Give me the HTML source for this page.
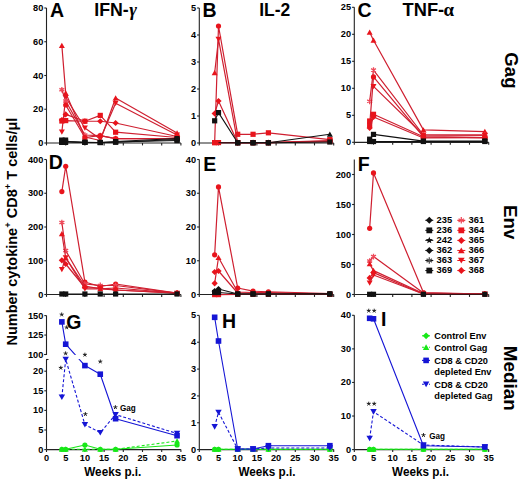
<!DOCTYPE html>
<html><head><meta charset="utf-8"><style>
html,body{margin:0;padding:0;background:#fff;}
svg{display:block;font-family:"Liberation Sans", sans-serif;}
</style></head><body>
<svg width="520" height="480" viewBox="0 0 520 480">
<rect width="520" height="480" fill="#fff"/>
<path d="M46.50,8.00V143.00" stroke="#222" stroke-width="1.1" fill="none"/><path d="M44.30,8.00H46.50" stroke="#222" stroke-width="1.1"/><text x="43.30" y="11.00" font-size="9.2" font-weight="bold" text-anchor="end" fill="#000">80</text><path d="M44.30,41.75H46.50" stroke="#222" stroke-width="1.1"/><text x="43.30" y="44.75" font-size="9.2" font-weight="bold" text-anchor="end" fill="#000">60</text><path d="M44.30,75.50H46.50" stroke="#222" stroke-width="1.1"/><text x="43.30" y="78.50" font-size="9.2" font-weight="bold" text-anchor="end" fill="#000">40</text><path d="M44.30,109.25H46.50" stroke="#222" stroke-width="1.1"/><text x="43.30" y="112.25" font-size="9.2" font-weight="bold" text-anchor="end" fill="#000">20</text><path d="M44.30,143.00H46.50" stroke="#222" stroke-width="1.1"/><text x="43.30" y="146.00" font-size="9.2" font-weight="bold" text-anchor="end" fill="#000">0</text><path d="M46.50,143.00H180.90" stroke="#222" stroke-width="1.2" fill="none"/><path d="M46.50,143.00V145.40" stroke="#222" stroke-width="1.1"/><path d="M65.70,143.00V145.40" stroke="#222" stroke-width="1.1"/><path d="M84.90,143.00V145.40" stroke="#222" stroke-width="1.1"/><path d="M104.10,143.00V145.40" stroke="#222" stroke-width="1.1"/><path d="M123.30,143.00V145.40" stroke="#222" stroke-width="1.1"/><path d="M142.50,143.00V145.40" stroke="#222" stroke-width="1.1"/><path d="M161.70,143.00V145.40" stroke="#222" stroke-width="1.1"/><path d="M180.90,143.00V145.40" stroke="#222" stroke-width="1.1"/><path d="M61.86,45.60L65.70,93.10L84.90,137.00L100.26,140.50L115.62,98.00L177.06,133.00" stroke="#cf1f30" stroke-width="1.2" fill="none" stroke-linejoin="round"/><path d="M61.86,42.87L64.85,48.07L58.87,48.07Z" fill="#e8141c"/><path d="M65.70,90.37L68.69,95.57L62.71,95.57Z" fill="#e8141c"/><path d="M84.90,134.27L87.89,139.47L81.91,139.47Z" fill="#e8141c"/><path d="M100.26,137.77L103.25,142.97L97.27,142.97Z" fill="#e8141c"/><path d="M115.62,95.27L118.61,100.47L112.63,100.47Z" fill="#e8141c"/><path d="M177.06,130.27L180.05,135.47L174.07,135.47Z" fill="#e8141c"/><path d="M61.86,131.90L65.70,97.50L84.90,128.00L100.26,139.00L115.62,103.20L177.06,135.00" stroke="#cf1f30" stroke-width="1.2" fill="none" stroke-linejoin="round"/><path d="M61.86,134.63L64.85,129.43L58.87,129.43Z" fill="#e8141c"/><path d="M65.70,100.23L68.69,95.03L62.71,95.03Z" fill="#e8141c"/><path d="M84.90,130.73L87.89,125.53L81.91,125.53Z" fill="#e8141c"/><path d="M100.26,141.73L103.25,136.53L97.27,136.53Z" fill="#e8141c"/><path d="M115.62,105.93L118.61,100.73L112.63,100.73Z" fill="#e8141c"/><path d="M177.06,137.73L180.05,132.53L174.07,132.53Z" fill="#e8141c"/><path d="M61.86,89.75L65.70,101.00L84.90,135.00L100.26,135.60L115.62,138.60L177.06,138.50" stroke="#cf1f30" stroke-width="1.2" fill="none" stroke-linejoin="round"/><path d="M61.86,86.89L61.86,92.61M59.38,88.32L64.34,91.18M59.38,91.18L64.34,88.32" stroke="#ee4a5a" stroke-width="1.3" fill="none"/><path d="M65.70,98.14L65.70,103.86M63.22,99.57L68.18,102.43M63.22,102.43L68.18,99.57" stroke="#ee4a5a" stroke-width="1.3" fill="none"/><path d="M84.90,132.14L84.90,137.86M82.42,133.57L87.38,136.43M82.42,136.43L87.38,133.57" stroke="#ee4a5a" stroke-width="1.3" fill="none"/><path d="M100.26,132.74L100.26,138.46M97.78,134.17L102.74,137.03M97.78,137.03L102.74,134.17" stroke="#ee4a5a" stroke-width="1.3" fill="none"/><path d="M115.62,135.74L115.62,141.46M113.14,137.17L118.10,140.03M113.14,140.03L118.10,137.17" stroke="#ee4a5a" stroke-width="1.3" fill="none"/><path d="M177.06,135.64L177.06,141.36M174.58,137.07L179.54,139.93M174.58,139.93L179.54,137.07" stroke="#ee4a5a" stroke-width="1.3" fill="none"/><path d="M61.86,120.00L65.70,114.40L84.90,121.25L100.26,121.25L115.62,123.00L177.06,136.50" stroke="#cf1f30" stroke-width="1.2" fill="none" stroke-linejoin="round"/><path d="M61.86,116.88L64.98,120.00L61.86,123.12L58.74,120.00Z" fill="#e8141c"/><path d="M65.70,111.28L68.82,114.40L65.70,117.52L62.58,114.40Z" fill="#e8141c"/><path d="M84.90,118.13L88.02,121.25L84.90,124.37L81.78,121.25Z" fill="#e8141c"/><path d="M100.26,118.13L103.38,121.25L100.26,124.37L97.14,121.25Z" fill="#e8141c"/><path d="M115.62,119.88L118.74,123.00L115.62,126.12L112.50,123.00Z" fill="#e8141c"/><path d="M177.06,133.38L180.18,136.50L177.06,139.62L173.94,136.50Z" fill="#e8141c"/><path d="M61.86,121.00L65.70,120.60L84.90,121.25L100.26,115.40L115.62,132.20L177.06,137.50" stroke="#cf1f30" stroke-width="1.2" fill="none" stroke-linejoin="round"/><rect x="59.26" y="118.40" width="5.20" height="5.20" fill="#e8141c"/><rect x="63.10" y="118.00" width="5.20" height="5.20" fill="#e8141c"/><rect x="82.30" y="118.65" width="5.20" height="5.20" fill="#e8141c"/><rect x="97.66" y="112.80" width="5.20" height="5.20" fill="#e8141c"/><rect x="113.02" y="129.60" width="5.20" height="5.20" fill="#e8141c"/><rect x="174.46" y="134.90" width="5.20" height="5.20" fill="#e8141c"/><path d="M65.70,105.00L84.90,137.50L100.26,135.60L115.62,138.60L177.06,139.00" stroke="#cf1f30" stroke-width="1.2" fill="none" stroke-linejoin="round"/><circle cx="65.70" cy="105.00" r="2.60" fill="#e8141c"/><circle cx="84.90" cy="137.50" r="2.60" fill="#e8141c"/><circle cx="100.26" cy="135.60" r="2.60" fill="#e8141c"/><circle cx="115.62" cy="138.60" r="2.60" fill="#e8141c"/><circle cx="177.06" cy="139.00" r="2.60" fill="#e8141c"/><path d="M61.86,141.50L84.90,142.20L100.26,142.50L115.62,142.00L177.06,140.50" stroke="#111" stroke-width="1.1" fill="none" stroke-linejoin="round"/><rect x="59.16" y="138.80" width="5.40" height="5.40" fill="#111"/><rect x="82.20" y="139.50" width="5.40" height="5.40" fill="#111"/><rect x="97.56" y="139.80" width="5.40" height="5.40" fill="#111"/><rect x="112.92" y="139.30" width="5.40" height="5.40" fill="#111"/><rect x="174.36" y="137.80" width="5.40" height="5.40" fill="#111"/><path d="M61.86,141.50L84.90,142.50L100.26,142.50L115.62,141.50L177.06,138.50" stroke="#111" stroke-width="1.1" fill="none" stroke-linejoin="round"/><rect x="59.36" y="139.00" width="5.00" height="5.00" fill="#111"/><rect x="82.40" y="140.00" width="5.00" height="5.00" fill="#111"/><rect x="97.76" y="140.00" width="5.00" height="5.00" fill="#111"/><rect x="113.12" y="139.00" width="5.00" height="5.00" fill="#111"/><rect x="174.56" y="136.00" width="5.00" height="5.00" fill="#111"/><path d="M61.86,141.50L84.90,142.50L100.26,142.50L115.62,142.20L177.06,139.50" stroke="#111" stroke-width="1.1" fill="none" stroke-linejoin="round"/><rect x="59.36" y="139.00" width="5.00" height="5.00" fill="#111"/><rect x="82.40" y="140.00" width="5.00" height="5.00" fill="#111"/><rect x="97.76" y="140.00" width="5.00" height="5.00" fill="#111"/><rect x="113.12" y="139.70" width="5.00" height="5.00" fill="#111"/><rect x="174.56" y="137.00" width="5.00" height="5.00" fill="#111"/><rect x="59.06" y="137.50" width="5.60" height="5.60" fill="#111"/><rect x="62.60" y="137.50" width="5.60" height="5.60" fill="#111"/><rect x="59.06" y="139.40" width="5.60" height="5.60" fill="#111"/><rect x="62.60" y="139.40" width="5.60" height="5.60" fill="#111"/><path d="M199.30,8.00V143.00" stroke="#222" stroke-width="1.1" fill="none"/><path d="M197.10,8.00H199.30" stroke="#222" stroke-width="1.1"/><text x="196.10" y="11.00" font-size="9.2" font-weight="bold" text-anchor="end" fill="#000">5</text><path d="M197.10,35.00H199.30" stroke="#222" stroke-width="1.1"/><text x="196.10" y="38.00" font-size="9.2" font-weight="bold" text-anchor="end" fill="#000">4</text><path d="M197.10,62.00H199.30" stroke="#222" stroke-width="1.1"/><text x="196.10" y="65.00" font-size="9.2" font-weight="bold" text-anchor="end" fill="#000">3</text><path d="M197.10,89.00H199.30" stroke="#222" stroke-width="1.1"/><text x="196.10" y="92.00" font-size="9.2" font-weight="bold" text-anchor="end" fill="#000">2</text><path d="M197.10,116.00H199.30" stroke="#222" stroke-width="1.1"/><text x="196.10" y="119.00" font-size="9.2" font-weight="bold" text-anchor="end" fill="#000">1</text><path d="M197.10,143.00H199.30" stroke="#222" stroke-width="1.1"/><text x="196.10" y="146.00" font-size="9.2" font-weight="bold" text-anchor="end" fill="#000">0</text><path d="M199.30,143.00H333.70" stroke="#222" stroke-width="1.2" fill="none"/><path d="M199.30,143.00V145.40" stroke="#222" stroke-width="1.1"/><path d="M218.50,143.00V145.40" stroke="#222" stroke-width="1.1"/><path d="M237.70,143.00V145.40" stroke="#222" stroke-width="1.1"/><path d="M256.90,143.00V145.40" stroke="#222" stroke-width="1.1"/><path d="M276.10,143.00V145.40" stroke="#222" stroke-width="1.1"/><path d="M295.30,143.00V145.40" stroke="#222" stroke-width="1.1"/><path d="M314.50,143.00V145.40" stroke="#222" stroke-width="1.1"/><path d="M333.70,143.00V145.40" stroke="#222" stroke-width="1.1"/><path d="M214.66,142.60L218.50,26.00L237.70,134.30L253.06,134.30L268.42,132.80L329.86,139.60" stroke="#cf1f30" stroke-width="1.2" fill="none" stroke-linejoin="round"/><rect x="212.06" y="140.00" width="5.20" height="5.20" fill="#e8141c"/><circle cx="218.50" cy="26.00" r="2.60" fill="#e8141c"/><rect x="235.10" y="131.70" width="5.20" height="5.20" fill="#e8141c"/><rect x="250.46" y="131.70" width="5.20" height="5.20" fill="#e8141c"/><rect x="265.82" y="130.20" width="5.20" height="5.20" fill="#e8141c"/><rect x="327.26" y="137.00" width="5.20" height="5.20" fill="#e8141c"/><path d="M214.66,72.70L218.50,39.20L237.70,142.60L253.06,142.60L268.42,142.60L329.86,140.50" stroke="#cf1f30" stroke-width="1.2" fill="none" stroke-linejoin="round"/><path d="M214.66,69.97L217.65,75.17L211.67,75.17Z" fill="#e8141c"/><path d="M218.50,41.93L221.49,36.73L215.51,36.73Z" fill="#e8141c"/><rect x="235.10" y="140.00" width="5.20" height="5.20" fill="#e8141c"/><rect x="250.46" y="140.00" width="5.20" height="5.20" fill="#e8141c"/><rect x="265.82" y="140.00" width="5.20" height="5.20" fill="#e8141c"/><rect x="327.26" y="137.90" width="5.20" height="5.20" fill="#e8141c"/><path d="M214.66,113.50L218.50,101.00L237.70,142.60L253.06,142.60L268.42,142.60L329.86,141.00" stroke="#cf1f30" stroke-width="1.2" fill="none" stroke-linejoin="round"/><path d="M214.66,110.38L217.78,113.50L214.66,116.62L211.54,113.50Z" fill="#e8141c"/><path d="M218.50,97.88L221.62,101.00L218.50,104.12L215.38,101.00Z" fill="#e8141c"/><path d="M237.70,139.48L240.82,142.60L237.70,145.72L234.58,142.60Z" fill="#e8141c"/><path d="M253.06,139.48L256.18,142.60L253.06,145.72L249.94,142.60Z" fill="#e8141c"/><path d="M268.42,139.48L271.54,142.60L268.42,145.72L265.30,142.60Z" fill="#e8141c"/><path d="M329.86,137.88L332.98,141.00L329.86,144.12L326.74,141.00Z" fill="#e8141c"/><path d="M214.66,142.60L218.50,142.60L237.70,142.60L253.06,142.60L268.42,142.60L329.86,141.50" stroke="#cf1f30" stroke-width="1.2" fill="none" stroke-linejoin="round"/><rect x="212.06" y="140.00" width="5.20" height="5.20" fill="#e8141c"/><rect x="215.90" y="140.00" width="5.20" height="5.20" fill="#e8141c"/><rect x="235.10" y="140.00" width="5.20" height="5.20" fill="#e8141c"/><rect x="250.46" y="140.00" width="5.20" height="5.20" fill="#e8141c"/><rect x="265.82" y="140.00" width="5.20" height="5.20" fill="#e8141c"/><rect x="327.26" y="138.90" width="5.20" height="5.20" fill="#e8141c"/><path d="M214.66,120.80L218.50,112.60L237.70,142.80L253.06,142.80L268.42,142.80L329.86,134.30" stroke="#111" stroke-width="1.1" fill="none" stroke-linejoin="round"/><rect x="212.06" y="118.20" width="5.20" height="5.20" fill="#111"/><rect x="215.90" y="110.00" width="5.20" height="5.20" fill="#111"/><rect x="235.10" y="140.20" width="5.20" height="5.20" fill="#111"/><rect x="250.46" y="140.20" width="5.20" height="5.20" fill="#111"/><rect x="265.82" y="140.20" width="5.20" height="5.20" fill="#111"/><path d="M329.86,131.57L332.85,136.77L326.87,136.77Z" fill="#111"/><path d="M218.50,142.80L237.70,142.80L253.06,142.80L268.42,142.80L329.86,142.00" stroke="#111" stroke-width="1.1" fill="none" stroke-linejoin="round"/><rect x="235.10" y="140.20" width="5.20" height="5.20" fill="#111"/><rect x="250.46" y="140.20" width="5.20" height="5.20" fill="#111"/><rect x="265.82" y="140.20" width="5.20" height="5.20" fill="#111"/><rect x="327.26" y="139.40" width="5.20" height="5.20" fill="#111"/><path d="M354.30,7.30V142.30" stroke="#222" stroke-width="1.1" fill="none"/><path d="M352.10,7.30H354.30" stroke="#222" stroke-width="1.1"/><text x="351.10" y="10.30" font-size="9.2" font-weight="bold" text-anchor="end" fill="#000">25</text><path d="M352.10,34.30H354.30" stroke="#222" stroke-width="1.1"/><text x="351.10" y="37.30" font-size="9.2" font-weight="bold" text-anchor="end" fill="#000">20</text><path d="M352.10,61.30H354.30" stroke="#222" stroke-width="1.1"/><text x="351.10" y="64.30" font-size="9.2" font-weight="bold" text-anchor="end" fill="#000">15</text><path d="M352.10,88.30H354.30" stroke="#222" stroke-width="1.1"/><text x="351.10" y="91.30" font-size="9.2" font-weight="bold" text-anchor="end" fill="#000">10</text><path d="M352.10,115.30H354.30" stroke="#222" stroke-width="1.1"/><text x="351.10" y="118.30" font-size="9.2" font-weight="bold" text-anchor="end" fill="#000">5</text><path d="M352.10,142.30H354.30" stroke="#222" stroke-width="1.1"/><text x="351.10" y="145.30" font-size="9.2" font-weight="bold" text-anchor="end" fill="#000">0</text><path d="M354.30,142.30H488.70" stroke="#222" stroke-width="1.2" fill="none"/><path d="M354.30,142.30V144.70" stroke="#222" stroke-width="1.1"/><path d="M373.50,142.30V144.70" stroke="#222" stroke-width="1.1"/><path d="M392.70,142.30V144.70" stroke="#222" stroke-width="1.1"/><path d="M411.90,142.30V144.70" stroke="#222" stroke-width="1.1"/><path d="M431.10,142.30V144.70" stroke="#222" stroke-width="1.1"/><path d="M450.30,142.30V144.70" stroke="#222" stroke-width="1.1"/><path d="M469.50,142.30V144.70" stroke="#222" stroke-width="1.1"/><path d="M488.70,142.30V144.70" stroke="#222" stroke-width="1.1"/><path d="M369.66,32.20L373.50,40.30L423.42,129.90L484.86,131.60" stroke="#cf1f30" stroke-width="1.2" fill="none" stroke-linejoin="round"/><path d="M369.66,29.47L372.65,34.67L366.67,34.67Z" fill="#e8141c"/><path d="M373.50,37.57L376.49,42.77L370.51,42.77Z" fill="#e8141c"/><path d="M423.42,127.17L426.41,132.37L420.43,132.37Z" fill="#e8141c"/><path d="M484.86,128.87L487.85,134.07L481.87,134.07Z" fill="#e8141c"/><path d="M369.66,101.30L373.50,70.10L423.42,135.00L484.86,135.10" stroke="#cf1f30" stroke-width="1.2" fill="none" stroke-linejoin="round"/><path d="M369.66,98.44L369.66,104.16M367.18,99.87L372.14,102.73M367.18,102.73L372.14,99.87" stroke="#ee4a5a" stroke-width="1.3" fill="none"/><path d="M373.50,67.24L373.50,72.96M371.02,68.67L375.98,71.53M371.02,71.53L375.98,68.67" stroke="#ee4a5a" stroke-width="1.3" fill="none"/><path d="M423.42,132.14L423.42,137.86M420.94,133.57L425.90,136.43M420.94,136.43L425.90,133.57" stroke="#ee4a5a" stroke-width="1.3" fill="none"/><path d="M484.86,132.24L484.86,137.96M482.38,133.67L487.34,136.53M482.38,136.53L487.34,133.67" stroke="#ee4a5a" stroke-width="1.3" fill="none"/><path d="M369.66,125.10L373.50,76.90L423.42,136.80L484.86,137.70" stroke="#cf1f30" stroke-width="1.2" fill="none" stroke-linejoin="round"/><rect x="367.06" y="122.50" width="5.20" height="5.20" fill="#e8141c"/><circle cx="373.50" cy="76.90" r="2.60" fill="#e8141c"/><circle cx="423.42" cy="136.80" r="2.60" fill="#e8141c"/><circle cx="484.86" cy="137.70" r="2.60" fill="#e8141c"/><path d="M373.50,86.40L423.42,135.00L484.86,135.10" stroke="#cf1f30" stroke-width="1.2" fill="none" stroke-linejoin="round"/><path d="M373.50,89.13L376.49,83.93L370.51,83.93Z" fill="#e8141c"/><path d="M423.42,137.73L426.41,132.53L420.43,132.53Z" fill="#e8141c"/><path d="M484.86,137.83L487.85,132.63L481.87,132.63Z" fill="#e8141c"/><path d="M369.66,121.00L373.50,114.30L423.42,136.80L484.86,137.70" stroke="#cf1f30" stroke-width="1.2" fill="none" stroke-linejoin="round"/><rect x="367.06" y="118.40" width="5.20" height="5.20" fill="#e8141c"/><rect x="370.90" y="111.70" width="5.20" height="5.20" fill="#e8141c"/><rect x="420.82" y="134.20" width="5.20" height="5.20" fill="#e8141c"/><rect x="482.26" y="135.10" width="5.20" height="5.20" fill="#e8141c"/><path d="M369.66,128.00L373.50,117.00L423.42,138.00L484.86,137.70" stroke="#cf1f30" stroke-width="1.2" fill="none" stroke-linejoin="round"/><path d="M369.66,124.88L372.78,128.00L369.66,131.12L366.54,128.00Z" fill="#e8141c"/><path d="M373.50,113.88L376.62,117.00L373.50,120.12L370.38,117.00Z" fill="#e8141c"/><path d="M423.42,134.88L426.54,138.00L423.42,141.12L420.30,138.00Z" fill="#e8141c"/><path d="M484.86,134.58L487.98,137.70L484.86,140.82L481.74,137.70Z" fill="#e8141c"/><path d="M369.66,139.20L373.50,134.40L423.42,141.10L484.86,141.00" stroke="#111" stroke-width="1.1" fill="none" stroke-linejoin="round"/><rect x="367.06" y="136.60" width="5.20" height="5.20" fill="#111"/><rect x="370.90" y="131.80" width="5.20" height="5.20" fill="#111"/><rect x="420.82" y="138.50" width="5.20" height="5.20" fill="#111"/><rect x="482.26" y="138.40" width="5.20" height="5.20" fill="#111"/><path d="M369.66,141.50L373.50,141.50L423.42,141.50L484.86,141.50" stroke="#111" stroke-width="1.1" fill="none" stroke-linejoin="round"/><rect x="367.06" y="138.90" width="5.20" height="5.20" fill="#111"/><rect x="370.90" y="138.90" width="5.20" height="5.20" fill="#111"/><rect x="420.82" y="138.90" width="5.20" height="5.20" fill="#111"/><rect x="482.26" y="138.90" width="5.20" height="5.20" fill="#111"/><path d="M46.50,159.50V294.50" stroke="#222" stroke-width="1.1" fill="none"/><path d="M44.30,159.50H46.50" stroke="#222" stroke-width="1.1"/><text x="43.30" y="162.50" font-size="9.2" font-weight="bold" text-anchor="end" fill="#000">400</text><path d="M44.30,193.25H46.50" stroke="#222" stroke-width="1.1"/><text x="43.30" y="196.25" font-size="9.2" font-weight="bold" text-anchor="end" fill="#000">300</text><path d="M44.30,227.00H46.50" stroke="#222" stroke-width="1.1"/><text x="43.30" y="230.00" font-size="9.2" font-weight="bold" text-anchor="end" fill="#000">200</text><path d="M44.30,260.75H46.50" stroke="#222" stroke-width="1.1"/><text x="43.30" y="263.75" font-size="9.2" font-weight="bold" text-anchor="end" fill="#000">100</text><path d="M44.30,294.50H46.50" stroke="#222" stroke-width="1.1"/><text x="43.30" y="297.50" font-size="9.2" font-weight="bold" text-anchor="end" fill="#000">0</text><path d="M46.50,294.50H180.90" stroke="#222" stroke-width="1.2" fill="none"/><path d="M46.50,294.50V296.90" stroke="#222" stroke-width="1.1"/><path d="M65.70,294.50V296.90" stroke="#222" stroke-width="1.1"/><path d="M84.90,294.50V296.90" stroke="#222" stroke-width="1.1"/><path d="M104.10,294.50V296.90" stroke="#222" stroke-width="1.1"/><path d="M123.30,294.50V296.90" stroke="#222" stroke-width="1.1"/><path d="M142.50,294.50V296.90" stroke="#222" stroke-width="1.1"/><path d="M161.70,294.50V296.90" stroke="#222" stroke-width="1.1"/><path d="M180.90,294.50V296.90" stroke="#222" stroke-width="1.1"/><path d="M61.86,191.60L65.70,166.25L84.90,282.00L100.26,286.50L115.62,284.00L177.06,293.20" stroke="#cf1f30" stroke-width="1.2" fill="none" stroke-linejoin="round"/><circle cx="61.86" cy="191.60" r="2.60" fill="#e8141c"/><circle cx="65.70" cy="166.25" r="2.60" fill="#e8141c"/><circle cx="84.90" cy="282.00" r="2.60" fill="#e8141c"/><circle cx="100.26" cy="286.50" r="2.60" fill="#e8141c"/><circle cx="115.62" cy="284.00" r="2.60" fill="#e8141c"/><circle cx="177.06" cy="293.20" r="2.60" fill="#e8141c"/><path d="M61.86,222.50L65.70,250.60L84.90,284.00L100.26,285.40L115.62,285.50L177.06,293.20" stroke="#cf1f30" stroke-width="1.2" fill="none" stroke-linejoin="round"/><path d="M61.86,219.64L61.86,225.36M59.38,221.07L64.34,223.93M59.38,223.93L64.34,221.07" stroke="#ee4a5a" stroke-width="1.3" fill="none"/><path d="M65.70,247.74L65.70,253.46M63.22,249.17L68.18,252.03M63.22,252.03L68.18,249.17" stroke="#ee4a5a" stroke-width="1.3" fill="none"/><path d="M84.90,281.14L84.90,286.86M82.42,282.57L87.38,285.43M82.42,285.43L87.38,282.57" stroke="#ee4a5a" stroke-width="1.3" fill="none"/><path d="M100.26,282.54L100.26,288.26M97.78,283.97L102.74,286.83M97.78,286.83L102.74,283.97" stroke="#ee4a5a" stroke-width="1.3" fill="none"/><path d="M115.62,282.64L115.62,288.36M113.14,284.07L118.10,286.93M113.14,286.93L118.10,284.07" stroke="#ee4a5a" stroke-width="1.3" fill="none"/><path d="M177.06,290.34L177.06,296.06M174.58,291.77L179.54,294.63M174.58,294.63L179.54,291.77" stroke="#ee4a5a" stroke-width="1.3" fill="none"/><path d="M61.86,233.75L65.70,257.80L84.90,286.00L100.26,288.80L115.62,288.00L177.06,293.20" stroke="#cf1f30" stroke-width="1.2" fill="none" stroke-linejoin="round"/><path d="M61.86,231.02L64.85,236.22L58.87,236.22Z" fill="#e8141c"/><path d="M65.70,255.07L68.69,260.27L62.71,260.27Z" fill="#e8141c"/><path d="M84.90,283.27L87.89,288.47L81.91,288.47Z" fill="#e8141c"/><path d="M100.26,286.07L103.25,291.27L97.27,291.27Z" fill="#e8141c"/><path d="M115.62,285.27L118.61,290.47L112.63,290.47Z" fill="#e8141c"/><path d="M177.06,290.47L180.05,295.67L174.07,295.67Z" fill="#e8141c"/><path d="M61.86,260.30L65.70,264.00L84.90,287.50L100.26,288.00L115.62,290.00L177.06,293.20" stroke="#cf1f30" stroke-width="1.2" fill="none" stroke-linejoin="round"/><path d="M61.86,257.18L64.98,260.30L61.86,263.42L58.74,260.30Z" fill="#e8141c"/><path d="M65.70,260.88L68.82,264.00L65.70,267.12L62.58,264.00Z" fill="#e8141c"/><path d="M84.90,284.38L88.02,287.50L84.90,290.62L81.78,287.50Z" fill="#e8141c"/><path d="M100.26,284.88L103.38,288.00L100.26,291.12L97.14,288.00Z" fill="#e8141c"/><path d="M115.62,286.88L118.74,290.00L115.62,293.12L112.50,290.00Z" fill="#e8141c"/><path d="M177.06,290.08L180.18,293.20L177.06,296.32L173.94,293.20Z" fill="#e8141c"/><path d="M61.86,269.40L65.70,257.80L84.90,288.80L100.26,288.80L115.62,290.00L177.06,293.20" stroke="#cf1f30" stroke-width="1.2" fill="none" stroke-linejoin="round"/><path d="M61.86,272.13L64.85,266.93L58.87,266.93Z" fill="#e8141c"/><path d="M65.70,260.53L68.69,255.33L62.71,255.33Z" fill="#e8141c"/><path d="M84.90,291.53L87.89,286.33L81.91,286.33Z" fill="#e8141c"/><path d="M100.26,291.53L103.25,286.33L97.27,286.33Z" fill="#e8141c"/><path d="M115.62,292.73L118.61,287.53L112.63,287.53Z" fill="#e8141c"/><path d="M177.06,295.93L180.05,290.73L174.07,290.73Z" fill="#e8141c"/><path d="M61.86,294.00L65.70,294.00L84.90,294.00L100.26,294.00L115.62,294.00L177.06,294.00" stroke="#111" stroke-width="1.1" fill="none" stroke-linejoin="round"/><rect x="59.26" y="291.40" width="5.20" height="5.20" fill="#111"/><rect x="63.10" y="291.40" width="5.20" height="5.20" fill="#111"/><rect x="82.30" y="291.40" width="5.20" height="5.20" fill="#111"/><rect x="97.66" y="291.40" width="5.20" height="5.20" fill="#111"/><rect x="113.02" y="291.40" width="5.20" height="5.20" fill="#111"/><rect x="174.46" y="291.40" width="5.20" height="5.20" fill="#111"/><path d="M199.30,159.50V294.50" stroke="#222" stroke-width="1.1" fill="none"/><path d="M197.10,159.50H199.30" stroke="#222" stroke-width="1.1"/><text x="196.10" y="162.50" font-size="9.2" font-weight="bold" text-anchor="end" fill="#000">40</text><path d="M197.10,193.25H199.30" stroke="#222" stroke-width="1.1"/><text x="196.10" y="196.25" font-size="9.2" font-weight="bold" text-anchor="end" fill="#000">30</text><path d="M197.10,227.00H199.30" stroke="#222" stroke-width="1.1"/><text x="196.10" y="230.00" font-size="9.2" font-weight="bold" text-anchor="end" fill="#000">20</text><path d="M197.10,260.75H199.30" stroke="#222" stroke-width="1.1"/><text x="196.10" y="263.75" font-size="9.2" font-weight="bold" text-anchor="end" fill="#000">10</text><path d="M197.10,294.50H199.30" stroke="#222" stroke-width="1.1"/><text x="196.10" y="297.50" font-size="9.2" font-weight="bold" text-anchor="end" fill="#000">0</text><path d="M199.30,294.50H333.70" stroke="#222" stroke-width="1.2" fill="none"/><path d="M199.30,294.50V296.90" stroke="#222" stroke-width="1.1"/><path d="M218.50,294.50V296.90" stroke="#222" stroke-width="1.1"/><path d="M237.70,294.50V296.90" stroke="#222" stroke-width="1.1"/><path d="M256.90,294.50V296.90" stroke="#222" stroke-width="1.1"/><path d="M276.10,294.50V296.90" stroke="#222" stroke-width="1.1"/><path d="M295.30,294.50V296.90" stroke="#222" stroke-width="1.1"/><path d="M314.50,294.50V296.90" stroke="#222" stroke-width="1.1"/><path d="M333.70,294.50V296.90" stroke="#222" stroke-width="1.1"/><path d="M214.66,294.60L218.50,294.60L237.70,294.30L253.06,294.30L268.42,294.30L329.86,294.30" stroke="#cf1f30" stroke-width="1.2" fill="none" stroke-linejoin="round"/><rect x="212.06" y="292.00" width="5.20" height="5.20" fill="#e8141c"/><rect x="215.90" y="292.00" width="5.20" height="5.20" fill="#e8141c"/><rect x="235.10" y="291.70" width="5.20" height="5.20" fill="#e8141c"/><rect x="250.46" y="291.70" width="5.20" height="5.20" fill="#e8141c"/><rect x="265.82" y="291.70" width="5.20" height="5.20" fill="#e8141c"/><rect x="327.26" y="291.70" width="5.20" height="5.20" fill="#e8141c"/><path d="M214.66,254.80L218.50,186.90L237.70,288.00L253.06,291.20L268.42,291.75L329.86,293.50" stroke="#cf1f30" stroke-width="1.2" fill="none" stroke-linejoin="round"/><circle cx="214.66" cy="254.80" r="2.60" fill="#e8141c"/><circle cx="218.50" cy="186.90" r="2.60" fill="#e8141c"/><circle cx="237.70" cy="288.00" r="2.60" fill="#e8141c"/><circle cx="253.06" cy="291.20" r="2.60" fill="#e8141c"/><circle cx="268.42" cy="291.75" r="2.60" fill="#e8141c"/><circle cx="329.86" cy="293.50" r="2.60" fill="#e8141c"/><path d="M214.66,283.30L218.50,257.50L237.70,292.00L253.06,292.50L268.42,292.50L329.86,294.00" stroke="#cf1f30" stroke-width="1.2" fill="none" stroke-linejoin="round"/><path d="M214.66,280.18L217.78,283.30L214.66,286.42L211.54,283.30Z" fill="#e8141c"/><path d="M218.50,254.77L221.49,259.97L215.51,259.97Z" fill="#e8141c"/><path d="M237.70,289.27L240.69,294.47L234.71,294.47Z" fill="#e8141c"/><path d="M253.06,289.77L256.05,294.97L250.07,294.97Z" fill="#e8141c"/><path d="M268.42,289.77L271.41,294.97L265.43,294.97Z" fill="#e8141c"/><path d="M329.86,291.27L332.85,296.47L326.87,296.47Z" fill="#e8141c"/><path d="M214.66,272.00L218.50,271.00L237.70,293.00L253.06,293.00L268.42,293.00L329.86,294.00" stroke="#cf1f30" stroke-width="1.2" fill="none" stroke-linejoin="round"/><path d="M214.66,268.88L217.78,272.00L214.66,275.12L211.54,272.00Z" fill="#e8141c"/><path d="M218.50,267.88L221.62,271.00L218.50,274.12L215.38,271.00Z" fill="#e8141c"/><path d="M237.70,289.88L240.82,293.00L237.70,296.12L234.58,293.00Z" fill="#e8141c"/><path d="M253.06,289.88L256.18,293.00L253.06,296.12L249.94,293.00Z" fill="#e8141c"/><path d="M268.42,289.88L271.54,293.00L268.42,296.12L265.30,293.00Z" fill="#e8141c"/><path d="M329.86,290.88L332.98,294.00L329.86,297.12L326.74,294.00Z" fill="#e8141c"/><path d="M214.66,291.20L218.50,289.00L237.70,294.00L253.06,294.00L268.42,294.00L329.86,293.90" stroke="#111" stroke-width="1.1" fill="none" stroke-linejoin="round"/><path d="M214.66,288.08L217.78,291.20L214.66,294.32L211.54,291.20Z" fill="#111"/><path d="M218.50,285.88L221.62,289.00L218.50,292.12L215.38,289.00Z" fill="#111"/><rect x="235.10" y="291.40" width="5.20" height="5.20" fill="#111"/><rect x="250.46" y="291.40" width="5.20" height="5.20" fill="#111"/><rect x="265.82" y="291.40" width="5.20" height="5.20" fill="#111"/><rect x="327.26" y="291.30" width="5.20" height="5.20" fill="#111"/><path d="M214.66,292.50L218.50,292.50L237.70,294.00L253.06,294.00L268.42,294.00L329.86,294.00" stroke="#111" stroke-width="1.1" fill="none" stroke-linejoin="round"/><rect x="212.06" y="289.90" width="5.20" height="5.20" fill="#111"/><rect x="215.90" y="289.90" width="5.20" height="5.20" fill="#111"/><rect x="235.10" y="291.40" width="5.20" height="5.20" fill="#111"/><rect x="250.46" y="291.40" width="5.20" height="5.20" fill="#111"/><rect x="265.82" y="291.40" width="5.20" height="5.20" fill="#111"/><rect x="327.26" y="291.40" width="5.20" height="5.20" fill="#111"/><path d="M354.30,159.50V294.50" stroke="#222" stroke-width="1.1" fill="none"/><path d="M352.10,174.50H354.30" stroke="#222" stroke-width="1.1"/><text x="351.10" y="177.50" font-size="9.2" font-weight="bold" text-anchor="end" fill="#000">200</text><path d="M352.10,204.50H354.30" stroke="#222" stroke-width="1.1"/><text x="351.10" y="207.50" font-size="9.2" font-weight="bold" text-anchor="end" fill="#000">150</text><path d="M352.10,234.50H354.30" stroke="#222" stroke-width="1.1"/><text x="351.10" y="237.50" font-size="9.2" font-weight="bold" text-anchor="end" fill="#000">100</text><path d="M352.10,264.50H354.30" stroke="#222" stroke-width="1.1"/><text x="351.10" y="267.50" font-size="9.2" font-weight="bold" text-anchor="end" fill="#000">50</text><path d="M352.10,294.50H354.30" stroke="#222" stroke-width="1.1"/><text x="351.10" y="297.50" font-size="9.2" font-weight="bold" text-anchor="end" fill="#000">0</text><path d="M354.30,294.50H488.70" stroke="#222" stroke-width="1.2" fill="none"/><path d="M354.30,294.50V296.90" stroke="#222" stroke-width="1.1"/><path d="M373.50,294.50V296.90" stroke="#222" stroke-width="1.1"/><path d="M392.70,294.50V296.90" stroke="#222" stroke-width="1.1"/><path d="M411.90,294.50V296.90" stroke="#222" stroke-width="1.1"/><path d="M431.10,294.50V296.90" stroke="#222" stroke-width="1.1"/><path d="M450.30,294.50V296.90" stroke="#222" stroke-width="1.1"/><path d="M469.50,294.50V296.90" stroke="#222" stroke-width="1.1"/><path d="M488.70,294.50V296.90" stroke="#222" stroke-width="1.1"/><path d="M369.66,228.30L373.50,172.90L423.42,292.60L484.86,294.00" stroke="#cf1f30" stroke-width="1.2" fill="none" stroke-linejoin="round"/><circle cx="369.66" cy="228.30" r="2.60" fill="#e8141c"/><circle cx="373.50" cy="172.90" r="2.60" fill="#e8141c"/><circle cx="423.42" cy="292.60" r="2.60" fill="#e8141c"/><circle cx="484.86" cy="294.00" r="2.60" fill="#e8141c"/><path d="M369.66,261.00L373.50,256.60L423.42,293.00L484.86,294.00" stroke="#cf1f30" stroke-width="1.2" fill="none" stroke-linejoin="round"/><path d="M369.66,258.14L369.66,263.86M367.18,259.57L372.14,262.43M367.18,262.43L372.14,259.57" stroke="#ee4a5a" stroke-width="1.3" fill="none"/><path d="M373.50,253.74L373.50,259.46M371.02,255.17L375.98,258.03M371.02,258.03L375.98,255.17" stroke="#ee4a5a" stroke-width="1.3" fill="none"/><path d="M423.42,290.14L423.42,295.86M420.94,291.57L425.90,294.43M420.94,294.43L425.90,291.57" stroke="#ee4a5a" stroke-width="1.3" fill="none"/><path d="M484.86,291.14L484.86,296.86M482.38,292.57L487.34,295.43M482.38,295.43L487.34,292.57" stroke="#ee4a5a" stroke-width="1.3" fill="none"/><path d="M369.66,263.90L373.50,270.60L423.42,293.50L484.86,294.00" stroke="#cf1f30" stroke-width="1.2" fill="none" stroke-linejoin="round"/><path d="M369.66,261.17L372.65,266.37L366.67,266.37Z" fill="#e8141c"/><path d="M373.50,267.87L376.49,273.07L370.51,273.07Z" fill="#e8141c"/><path d="M423.42,290.77L426.41,295.97L420.43,295.97Z" fill="#e8141c"/><path d="M484.86,291.27L487.85,296.47L481.87,296.47Z" fill="#e8141c"/><path d="M369.66,277.90L373.50,272.60L423.42,294.00L484.86,294.00" stroke="#cf1f30" stroke-width="1.2" fill="none" stroke-linejoin="round"/><path d="M369.66,274.78L372.78,277.90L369.66,281.02L366.54,277.90Z" fill="#e8141c"/><path d="M373.50,269.48L376.62,272.60L373.50,275.72L370.38,272.60Z" fill="#e8141c"/><path d="M423.42,290.88L426.54,294.00L423.42,297.12L420.30,294.00Z" fill="#e8141c"/><path d="M484.86,290.88L487.98,294.00L484.86,297.12L481.74,294.00Z" fill="#e8141c"/><path d="M369.66,283.00L373.50,275.00L423.42,294.00L484.86,294.00" stroke="#cf1f30" stroke-width="1.2" fill="none" stroke-linejoin="round"/><path d="M369.66,285.73L372.65,280.53L366.67,280.53Z" fill="#e8141c"/><path d="M373.50,277.73L376.49,272.53L370.51,272.53Z" fill="#e8141c"/><path d="M423.42,296.73L426.41,291.53L420.43,291.53Z" fill="#e8141c"/><path d="M484.86,296.73L487.85,291.53L481.87,291.53Z" fill="#e8141c"/><path d="M369.66,294.30L373.50,294.30L423.42,294.30L484.86,294.30" stroke="#111" stroke-width="1.1" fill="none" stroke-linejoin="round"/><rect x="367.06" y="291.70" width="5.20" height="5.20" fill="#111"/><rect x="370.90" y="291.70" width="5.20" height="5.20" fill="#111"/><rect x="420.82" y="291.70" width="5.20" height="5.20" fill="#111"/><rect x="482.26" y="291.70" width="5.20" height="5.20" fill="#111"/><path d="M46.50,315.6V354.5H44.30" stroke="#222" stroke-width="1.1" fill="none"/><path d="M46.50,359.5V449.6" stroke="#222" stroke-width="1.1" fill="none"/><path d="M46.00,359.5H48.50" stroke="#222" stroke-width="1.1" fill="none"/><path d="M44.30,315.60H46.50" stroke="#222" stroke-width="1.1"/><text x="43.30" y="318.60" font-size="9.2" font-weight="bold" text-anchor="end" fill="#000">150</text><path d="M44.30,335.05H46.50" stroke="#222" stroke-width="1.1"/><text x="43.30" y="338.05" font-size="9.2" font-weight="bold" text-anchor="end" fill="#000">125</text><path d="M44.30,354.50H46.50" stroke="#222" stroke-width="1.1"/><text x="43.30" y="357.50" font-size="9.2" font-weight="bold" text-anchor="end" fill="#000">100</text><path d="M44.30,371.20H46.50" stroke="#222" stroke-width="1.1"/><text x="43.30" y="374.20" font-size="9.2" font-weight="bold" text-anchor="end" fill="#000">20</text><path d="M44.30,390.80H46.50" stroke="#222" stroke-width="1.1"/><text x="43.30" y="393.80" font-size="9.2" font-weight="bold" text-anchor="end" fill="#000">15</text><path d="M44.30,410.40H46.50" stroke="#222" stroke-width="1.1"/><text x="43.30" y="413.40" font-size="9.2" font-weight="bold" text-anchor="end" fill="#000">10</text><path d="M44.30,430.00H46.50" stroke="#222" stroke-width="1.1"/><text x="43.30" y="433.00" font-size="9.2" font-weight="bold" text-anchor="end" fill="#000">5</text><path d="M44.30,449.60H46.50" stroke="#222" stroke-width="1.1"/><text x="43.30" y="452.60" font-size="9.2" font-weight="bold" text-anchor="end" fill="#000">0</text><path d="M46.50,449.60H180.90" stroke="#222" stroke-width="1.2" fill="none"/><path d="M46.50,449.60V452.00" stroke="#222" stroke-width="1.1"/><text x="46.50" y="461.20" font-size="9.2" font-weight="bold" text-anchor="middle" fill="#000">0</text><path d="M65.70,449.60V452.00" stroke="#222" stroke-width="1.1"/><text x="65.70" y="461.20" font-size="9.2" font-weight="bold" text-anchor="middle" fill="#000">5</text><path d="M84.90,449.60V452.00" stroke="#222" stroke-width="1.1"/><text x="84.90" y="461.20" font-size="9.2" font-weight="bold" text-anchor="middle" fill="#000">10</text><path d="M104.10,449.60V452.00" stroke="#222" stroke-width="1.1"/><text x="104.10" y="461.20" font-size="9.2" font-weight="bold" text-anchor="middle" fill="#000">15</text><path d="M123.30,449.60V452.00" stroke="#222" stroke-width="1.1"/><text x="123.30" y="461.20" font-size="9.2" font-weight="bold" text-anchor="middle" fill="#000">20</text><path d="M142.50,449.60V452.00" stroke="#222" stroke-width="1.1"/><text x="142.50" y="461.20" font-size="9.2" font-weight="bold" text-anchor="middle" fill="#000">25</text><path d="M161.70,449.60V452.00" stroke="#222" stroke-width="1.1"/><text x="161.70" y="461.20" font-size="9.2" font-weight="bold" text-anchor="middle" fill="#000">30</text><path d="M180.90,449.60V452.00" stroke="#222" stroke-width="1.1"/><text x="180.90" y="461.20" font-size="9.2" font-weight="bold" text-anchor="middle" fill="#000">35</text><path d="M61.86,449.30L65.70,449.30L84.90,445.00L100.26,449.30L115.62,449.30L177.06,445.00" stroke="#18e818" stroke-width="1.1" fill="none" stroke-linejoin="round"/><circle cx="61.86" cy="449.30" r="2.60" fill="#18e818"/><circle cx="65.70" cy="449.30" r="2.60" fill="#18e818"/><circle cx="84.90" cy="445.00" r="2.60" fill="#18e818"/><circle cx="100.26" cy="449.30" r="2.60" fill="#18e818"/><circle cx="115.62" cy="449.30" r="2.60" fill="#18e818"/><circle cx="177.06" cy="445.00" r="2.60" fill="#18e818"/><path d="M61.86,449.30L65.70,449.30L84.90,449.30L100.26,449.30L115.62,449.30L177.06,441.00" stroke="#18e818" stroke-width="1.1" fill="none" stroke-dasharray="3,2" stroke-linejoin="round"/><path d="M61.86,446.57L64.85,451.77L58.87,451.77Z" fill="#18e818"/><path d="M65.70,446.57L68.69,451.77L62.71,451.77Z" fill="#18e818"/><path d="M84.90,446.57L87.89,451.77L81.91,451.77Z" fill="#18e818"/><path d="M100.26,446.57L103.25,451.77L97.27,451.77Z" fill="#18e818"/><path d="M115.62,446.57L118.61,451.77L112.63,451.77Z" fill="#18e818"/><path d="M177.06,438.27L180.05,443.47L174.07,443.47Z" fill="#18e818"/><path d="M61.86,321.90L65.70,344.20L84.90,365.60L100.26,374.20L115.62,418.70L177.06,435.70" stroke="#1515d5" stroke-width="1.1" fill="none" stroke-linejoin="round"/><rect x="59.06" y="319.10" width="5.60" height="5.60" fill="#1515d5"/><rect x="62.90" y="341.40" width="5.60" height="5.60" fill="#1515d5"/><rect x="82.10" y="362.80" width="5.60" height="5.60" fill="#1515d5"/><rect x="97.46" y="371.40" width="5.60" height="5.60" fill="#1515d5"/><rect x="112.82" y="415.90" width="5.60" height="5.60" fill="#1515d5"/><rect x="174.26" y="432.90" width="5.60" height="5.60" fill="#1515d5"/><rect x="67" y="354.9" width="20" height="4.2" fill="#fff"/><path d="M61.86,397.10L65.70,359.30L84.90,424.60L100.26,432.60L115.62,414.60L177.06,433.50" stroke="#1515d5" stroke-width="1.1" fill="none" stroke-dasharray="3,2" stroke-linejoin="round"/><path d="M61.86,400.04L65.08,394.44L58.64,394.44Z" fill="#1515d5"/><path d="M65.70,362.24L68.92,356.64L62.48,356.64Z" fill="#1515d5"/><path d="M84.90,427.54L88.12,421.94L81.68,421.94Z" fill="#1515d5"/><path d="M100.26,435.54L103.48,429.94L97.04,429.94Z" fill="#1515d5"/><path d="M115.62,417.54L118.84,411.94L112.40,411.94Z" fill="#1515d5"/><path d="M177.06,436.44L180.28,430.84L173.84,430.84Z" fill="#1515d5"/><path d="M61.70,314.60L61.70,312.90M61.70,314.60L63.32,314.07M61.70,314.60L62.70,315.98M61.70,314.60L60.70,315.98M61.70,314.60L60.08,314.07" stroke="#222" stroke-width="1.0" fill="none" stroke-linecap="round"/><path d="M66.70,327.50L66.70,325.80M66.70,327.50L68.32,326.97M66.70,327.50L67.70,328.88M66.70,327.50L65.70,328.88M66.70,327.50L65.08,326.97" stroke="#222" stroke-width="1.0" fill="none" stroke-linecap="round"/><path d="M65.60,353.50L65.60,351.80M65.60,353.50L67.22,352.97M65.60,353.50L66.60,354.88M65.60,353.50L64.60,354.88M65.60,353.50L63.98,352.97" stroke="#222" stroke-width="1.0" fill="none" stroke-linecap="round"/><path d="M60.80,367.90L60.80,366.20M60.80,367.90L62.42,367.37M60.80,367.90L61.80,369.28M60.80,367.90L59.80,369.28M60.80,367.90L59.18,367.37" stroke="#222" stroke-width="1.0" fill="none" stroke-linecap="round"/><path d="M84.90,354.80L84.90,353.10M84.90,354.80L86.52,354.27M84.90,354.80L85.90,356.18M84.90,354.80L83.90,356.18M84.90,354.80L83.28,354.27" stroke="#222" stroke-width="1.0" fill="none" stroke-linecap="round"/><path d="M100.30,361.60L100.30,359.90M100.30,361.60L101.92,361.07M100.30,361.60L101.30,362.98M100.30,361.60L99.30,362.98M100.30,361.60L98.68,361.07" stroke="#222" stroke-width="1.0" fill="none" stroke-linecap="round"/><path d="M85.40,414.20L85.40,412.50M85.40,414.20L87.02,413.67M85.40,414.20L86.40,415.58M85.40,414.20L84.40,415.58M85.40,414.20L83.78,413.67" stroke="#222" stroke-width="1.0" fill="none" stroke-linecap="round"/><path d="M115.40,407.30L115.40,405.60M115.40,407.30L117.02,406.77M115.40,407.30L116.40,408.68M115.40,407.30L114.40,408.68M115.40,407.30L113.78,406.77" stroke="#222" stroke-width="1.0" fill="none" stroke-linecap="round"/><text x="120.00" y="410.80" font-size="9.2" font-weight="bold" text-anchor="start" fill="#000" textLength="15.8" lengthAdjust="spacingAndGlyphs">Gag</text><path d="M199.30,315.40V449.60" stroke="#222" stroke-width="1.1" fill="none"/><path d="M197.10,315.40H199.30" stroke="#222" stroke-width="1.1"/><text x="196.10" y="318.40" font-size="9.2" font-weight="bold" text-anchor="end" fill="#000">5</text><path d="M197.10,342.24H199.30" stroke="#222" stroke-width="1.1"/><text x="196.10" y="345.24" font-size="9.2" font-weight="bold" text-anchor="end" fill="#000">4</text><path d="M197.10,369.08H199.30" stroke="#222" stroke-width="1.1"/><text x="196.10" y="372.08" font-size="9.2" font-weight="bold" text-anchor="end" fill="#000">3</text><path d="M197.10,395.92H199.30" stroke="#222" stroke-width="1.1"/><text x="196.10" y="398.92" font-size="9.2" font-weight="bold" text-anchor="end" fill="#000">2</text><path d="M197.10,422.76H199.30" stroke="#222" stroke-width="1.1"/><text x="196.10" y="425.76" font-size="9.2" font-weight="bold" text-anchor="end" fill="#000">1</text><path d="M197.10,449.60H199.30" stroke="#222" stroke-width="1.1"/><text x="196.10" y="452.60" font-size="9.2" font-weight="bold" text-anchor="end" fill="#000">0</text><path d="M199.30,449.60H333.70" stroke="#222" stroke-width="1.2" fill="none"/><path d="M199.30,449.60V452.00" stroke="#222" stroke-width="1.1"/><text x="199.30" y="461.20" font-size="9.2" font-weight="bold" text-anchor="middle" fill="#000">0</text><path d="M218.50,449.60V452.00" stroke="#222" stroke-width="1.1"/><text x="218.50" y="461.20" font-size="9.2" font-weight="bold" text-anchor="middle" fill="#000">5</text><path d="M237.70,449.60V452.00" stroke="#222" stroke-width="1.1"/><text x="237.70" y="461.20" font-size="9.2" font-weight="bold" text-anchor="middle" fill="#000">10</text><path d="M256.90,449.60V452.00" stroke="#222" stroke-width="1.1"/><text x="256.90" y="461.20" font-size="9.2" font-weight="bold" text-anchor="middle" fill="#000">15</text><path d="M276.10,449.60V452.00" stroke="#222" stroke-width="1.1"/><text x="276.10" y="461.20" font-size="9.2" font-weight="bold" text-anchor="middle" fill="#000">20</text><path d="M295.30,449.60V452.00" stroke="#222" stroke-width="1.1"/><text x="295.30" y="461.20" font-size="9.2" font-weight="bold" text-anchor="middle" fill="#000">25</text><path d="M314.50,449.60V452.00" stroke="#222" stroke-width="1.1"/><text x="314.50" y="461.20" font-size="9.2" font-weight="bold" text-anchor="middle" fill="#000">30</text><path d="M333.70,449.60V452.00" stroke="#222" stroke-width="1.1"/><text x="333.70" y="461.20" font-size="9.2" font-weight="bold" text-anchor="middle" fill="#000">35</text><path d="M214.66,449.30L218.50,449.30L237.70,449.30L253.06,449.30L268.42,449.30L329.86,449.30" stroke="#18e818" stroke-width="1.1" fill="none" stroke-linejoin="round"/><circle cx="214.66" cy="449.30" r="2.60" fill="#18e818"/><circle cx="218.50" cy="449.30" r="2.60" fill="#18e818"/><circle cx="237.70" cy="449.30" r="2.60" fill="#18e818"/><circle cx="253.06" cy="449.30" r="2.60" fill="#18e818"/><circle cx="268.42" cy="449.30" r="2.60" fill="#18e818"/><circle cx="329.86" cy="449.30" r="2.60" fill="#18e818"/><path d="M214.66,449.30L218.50,449.30L237.70,449.30L253.06,449.30L268.42,449.30L329.86,449.30" stroke="#18e818" stroke-width="1.1" fill="none" stroke-dasharray="3,2" stroke-linejoin="round"/><path d="M214.66,446.57L217.65,451.77L211.67,451.77Z" fill="#18e818"/><path d="M218.50,446.57L221.49,451.77L215.51,451.77Z" fill="#18e818"/><path d="M237.70,446.57L240.69,451.77L234.71,451.77Z" fill="#18e818"/><path d="M253.06,446.57L256.05,451.77L250.07,451.77Z" fill="#18e818"/><path d="M268.42,446.57L271.41,451.77L265.43,451.77Z" fill="#18e818"/><path d="M329.86,446.57L332.85,451.77L326.87,451.77Z" fill="#18e818"/><path d="M214.66,317.30L218.50,341.00L237.70,449.00L253.06,449.00L268.42,445.70L329.86,445.70" stroke="#1515d5" stroke-width="1.1" fill="none" stroke-linejoin="round"/><rect x="211.86" y="314.50" width="5.60" height="5.60" fill="#1515d5"/><rect x="215.70" y="338.20" width="5.60" height="5.60" fill="#1515d5"/><rect x="234.90" y="446.20" width="5.60" height="5.60" fill="#1515d5"/><rect x="250.26" y="446.20" width="5.60" height="5.60" fill="#1515d5"/><rect x="265.62" y="442.90" width="5.60" height="5.60" fill="#1515d5"/><rect x="327.06" y="442.90" width="5.60" height="5.60" fill="#1515d5"/><path d="M214.66,426.70L218.50,412.30L237.70,449.00L253.06,449.00L268.42,448.00L329.86,448.00" stroke="#1515d5" stroke-width="1.1" fill="none" stroke-dasharray="3,2" stroke-linejoin="round"/><path d="M214.66,429.64L217.88,424.04L211.44,424.04Z" fill="#1515d5"/><path d="M218.50,415.24L221.72,409.64L215.28,409.64Z" fill="#1515d5"/><path d="M237.70,451.94L240.92,446.34L234.48,446.34Z" fill="#1515d5"/><path d="M253.06,451.94L256.28,446.34L249.84,446.34Z" fill="#1515d5"/><path d="M268.42,450.94L271.64,445.34L265.20,445.34Z" fill="#1515d5"/><path d="M329.86,450.94L333.08,445.34L326.64,445.34Z" fill="#1515d5"/><path d="M354.30,315.30V449.60" stroke="#222" stroke-width="1.1" fill="none"/><path d="M352.10,315.30H354.30" stroke="#222" stroke-width="1.1"/><text x="351.10" y="318.30" font-size="9.2" font-weight="bold" text-anchor="end" fill="#000">40</text><path d="M352.10,348.88H354.30" stroke="#222" stroke-width="1.1"/><text x="351.10" y="351.88" font-size="9.2" font-weight="bold" text-anchor="end" fill="#000">30</text><path d="M352.10,382.45H354.30" stroke="#222" stroke-width="1.1"/><text x="351.10" y="385.45" font-size="9.2" font-weight="bold" text-anchor="end" fill="#000">20</text><path d="M352.10,416.03H354.30" stroke="#222" stroke-width="1.1"/><text x="351.10" y="419.03" font-size="9.2" font-weight="bold" text-anchor="end" fill="#000">10</text><path d="M352.10,449.60H354.30" stroke="#222" stroke-width="1.1"/><text x="351.10" y="452.60" font-size="9.2" font-weight="bold" text-anchor="end" fill="#000">0</text><path d="M354.30,449.60H488.70" stroke="#222" stroke-width="1.2" fill="none"/><path d="M354.30,449.60V452.00" stroke="#222" stroke-width="1.1"/><text x="354.30" y="461.20" font-size="9.2" font-weight="bold" text-anchor="middle" fill="#000">0</text><path d="M373.50,449.60V452.00" stroke="#222" stroke-width="1.1"/><text x="373.50" y="461.20" font-size="9.2" font-weight="bold" text-anchor="middle" fill="#000">5</text><path d="M392.70,449.60V452.00" stroke="#222" stroke-width="1.1"/><text x="392.70" y="461.20" font-size="9.2" font-weight="bold" text-anchor="middle" fill="#000">10</text><path d="M411.90,449.60V452.00" stroke="#222" stroke-width="1.1"/><text x="411.90" y="461.20" font-size="9.2" font-weight="bold" text-anchor="middle" fill="#000">15</text><path d="M431.10,449.60V452.00" stroke="#222" stroke-width="1.1"/><text x="431.10" y="461.20" font-size="9.2" font-weight="bold" text-anchor="middle" fill="#000">20</text><path d="M450.30,449.60V452.00" stroke="#222" stroke-width="1.1"/><text x="450.30" y="461.20" font-size="9.2" font-weight="bold" text-anchor="middle" fill="#000">25</text><path d="M469.50,449.60V452.00" stroke="#222" stroke-width="1.1"/><text x="469.50" y="461.20" font-size="9.2" font-weight="bold" text-anchor="middle" fill="#000">30</text><path d="M488.70,449.60V452.00" stroke="#222" stroke-width="1.1"/><text x="488.70" y="461.20" font-size="9.2" font-weight="bold" text-anchor="middle" fill="#000">35</text><path d="M369.66,449.30L373.50,449.30L423.42,449.30L484.86,449.30" stroke="#18e818" stroke-width="1.1" fill="none" stroke-linejoin="round"/><circle cx="369.66" cy="449.30" r="2.60" fill="#18e818"/><circle cx="373.50" cy="449.30" r="2.60" fill="#18e818"/><circle cx="423.42" cy="449.30" r="2.60" fill="#18e818"/><circle cx="484.86" cy="449.30" r="2.60" fill="#18e818"/><path d="M369.66,449.30L373.50,449.30L423.42,449.30L484.86,449.30" stroke="#18e818" stroke-width="1.1" fill="none" stroke-dasharray="3,2" stroke-linejoin="round"/><path d="M369.66,446.57L372.65,451.77L366.67,451.77Z" fill="#18e818"/><path d="M373.50,446.57L376.49,451.77L370.51,451.77Z" fill="#18e818"/><path d="M423.42,446.57L426.41,451.77L420.43,451.77Z" fill="#18e818"/><path d="M484.86,446.57L487.85,451.77L481.87,451.77Z" fill="#18e818"/><path d="M369.66,318.30L373.50,318.80L423.42,445.70L484.86,447.00" stroke="#1515d5" stroke-width="1.1" fill="none" stroke-linejoin="round"/><rect x="366.86" y="315.50" width="5.60" height="5.60" fill="#1515d5"/><rect x="370.70" y="316.00" width="5.60" height="5.60" fill="#1515d5"/><rect x="420.62" y="442.90" width="5.60" height="5.60" fill="#1515d5"/><rect x="482.06" y="444.20" width="5.60" height="5.60" fill="#1515d5"/><path d="M369.66,438.30L373.50,411.70L423.42,445.00L484.86,447.00" stroke="#1515d5" stroke-width="1.1" fill="none" stroke-dasharray="3,2" stroke-linejoin="round"/><path d="M369.66,441.24L372.88,435.64L366.44,435.64Z" fill="#1515d5"/><path d="M373.50,414.64L376.72,409.04L370.28,409.04Z" fill="#1515d5"/><path d="M423.42,447.94L426.64,442.34L420.20,442.34Z" fill="#1515d5"/><path d="M484.86,449.94L488.08,444.34L481.64,444.34Z" fill="#1515d5"/><path d="M368.75,310.80L368.75,309.10M368.75,310.80L370.37,310.27M368.75,310.80L369.75,312.18M368.75,310.80L367.75,312.18M368.75,310.80L367.13,310.27" stroke="#222" stroke-width="1.0" fill="none" stroke-linecap="round"/><path d="M374.20,310.80L374.20,309.10M374.20,310.80L375.82,310.27M374.20,310.80L375.20,312.18M374.20,310.80L373.20,312.18M374.20,310.80L372.58,310.27" stroke="#222" stroke-width="1.0" fill="none" stroke-linecap="round"/><path d="M368.75,403.80L368.75,402.10M368.75,403.80L370.37,403.27M368.75,403.80L369.75,405.18M368.75,403.80L367.75,405.18M368.75,403.80L367.13,403.27" stroke="#222" stroke-width="1.0" fill="none" stroke-linecap="round"/><path d="M374.20,403.80L374.20,402.10M374.20,403.80L375.82,403.27M374.20,403.80L375.20,405.18M374.20,403.80L373.20,405.18M374.20,403.80L372.58,403.27" stroke="#222" stroke-width="1.0" fill="none" stroke-linecap="round"/><path d="M423.50,435.20L423.50,433.50M423.50,435.20L425.12,434.67M423.50,435.20L424.50,436.58M423.50,435.20L422.50,436.58M423.50,435.20L421.88,434.67" stroke="#222" stroke-width="1.0" fill="none" stroke-linecap="round"/><text x="429.20" y="438.90" font-size="9.2" font-weight="bold" text-anchor="start" fill="#000" textLength="15.8" lengthAdjust="spacingAndGlyphs">Gag</text><text x="50.00" y="17.00" font-size="19.5" font-weight="bold" text-anchor="start" fill="#000">A</text><text x="202.60" y="16.90" font-size="19.5" font-weight="bold" text-anchor="start" fill="#000">B</text><text x="357.40" y="17.30" font-size="19.5" font-weight="bold" text-anchor="start" fill="#000">C</text><text x="48.70" y="169.40" font-size="19.5" font-weight="bold" text-anchor="start" fill="#000">D</text><text x="203.20" y="170.50" font-size="19.5" font-weight="bold" text-anchor="start" fill="#000">E</text><text x="357.80" y="170.80" font-size="19.5" font-weight="bold" text-anchor="start" fill="#000">F</text><text x="66.30" y="329.00" font-size="19.5" font-weight="bold" text-anchor="start" fill="#000">G</text><text x="222.10" y="328.30" font-size="19.5" font-weight="bold" text-anchor="start" fill="#000">H</text><text x="381.00" y="326.40" font-size="19.5" font-weight="bold" text-anchor="start" fill="#000">I</text><text x="94.30" y="15.60" font-size="17.5" font-weight="bold" text-anchor="start" fill="#000" textLength="34.5" lengthAdjust="spacingAndGlyphs">IFN-</text><text x="129.20" y="15.60" font-size="18.5" font-weight="bold" text-anchor="start" fill="#000" font-family="Liberation Serif" font-style="italic">γ</text><text x="259.20" y="15.80" font-size="17.5" font-weight="bold" text-anchor="start" fill="#000" textLength="31" lengthAdjust="spacingAndGlyphs">IL-2</text><text x="402.60" y="15.60" font-size="17.5" font-weight="bold" text-anchor="start" fill="#000" textLength="41.6" lengthAdjust="spacingAndGlyphs">TNF-</text><text x="443.40" y="15.60" font-size="18" font-weight="bold" text-anchor="start" fill="#000" textLength="10.5" lengthAdjust="spacingAndGlyphs" font-family="Liberation Serif">α</text><text x="0.00" y="0.00" font-size="18" font-weight="bold" text-anchor="middle" fill="#000" textLength="36.3" lengthAdjust="spacingAndGlyphs" transform="translate(504.6,70.4) rotate(90)">Gag</text><text x="0.00" y="0.00" font-size="18" font-weight="bold" text-anchor="middle" fill="#000" textLength="34.4" lengthAdjust="spacingAndGlyphs" transform="translate(504.0,222.3) rotate(90)">Env</text><text x="0.00" y="0.00" font-size="18" font-weight="bold" text-anchor="middle" fill="#000" textLength="65" lengthAdjust="spacingAndGlyphs" transform="translate(504.0,378.2) rotate(90)">Median</text><text x="0.00" y="0.00" font-size="14" font-weight="bold" text-anchor="middle" fill="#000" textLength="228" lengthAdjust="spacingAndGlyphs" transform="translate(17.0,231.6) rotate(-90)">Number cytokine<tspan dy="-6" font-size="9">+</tspan><tspan dy="6"> CD8</tspan><tspan dy="-6" font-size="9">+</tspan><tspan dy="6"> T cells/μl</tspan></text><text x="112.80" y="475.90" font-size="12" font-weight="bold" text-anchor="middle" fill="#000" textLength="57" lengthAdjust="spacingAndGlyphs">Weeks p.i.</text><text x="267.00" y="475.90" font-size="12" font-weight="bold" text-anchor="middle" fill="#000" textLength="57" lengthAdjust="spacingAndGlyphs">Weeks p.i.</text><text x="420.60" y="475.90" font-size="12" font-weight="bold" text-anchor="middle" fill="#000" textLength="57" lengthAdjust="spacingAndGlyphs">Weeks p.i.</text><path d="M425.30,220.30H433.30" stroke="#111" stroke-width="1"/><path d="M429.30,216.82L432.78,220.30L429.30,223.78L425.82,220.30Z" fill="#111"/><text x="436.60" y="223.20" font-size="9.5" font-weight="bold" text-anchor="start" fill="#000" textLength="15.6" lengthAdjust="spacingAndGlyphs">235</text><path d="M457.30,220.30H465.30" stroke="#e8141c" stroke-width="1"/><path d="M461.30,217.11L461.30,223.49M458.54,218.71L464.06,221.90M458.54,221.90L464.06,218.71" stroke="#f05060" stroke-width="1.3" fill="none"/><text x="468.60" y="223.20" font-size="9.5" font-weight="bold" text-anchor="start" fill="#000" textLength="15.6" lengthAdjust="spacingAndGlyphs">361</text><path d="M425.30,230.35H433.30" stroke="#111" stroke-width="1"/><rect x="426.40" y="227.45" width="5.80" height="5.80" fill="#111"/><text x="436.60" y="233.25" font-size="9.5" font-weight="bold" text-anchor="start" fill="#000" textLength="15.6" lengthAdjust="spacingAndGlyphs">236</text><path d="M457.30,230.35H465.30" stroke="#e8141c" stroke-width="1"/><rect x="458.40" y="227.45" width="5.80" height="5.80" fill="#e8141c"/><text x="468.60" y="233.25" font-size="9.5" font-weight="bold" text-anchor="start" fill="#000" textLength="15.6" lengthAdjust="spacingAndGlyphs">364</text><path d="M425.30,240.40H433.30" stroke="#111" stroke-width="1"/><polygon points="429.30,236.78 430.24,239.11 432.75,239.28 430.82,240.89 431.43,243.33 429.30,242.00 427.17,243.33 427.78,240.89 425.85,239.28 428.36,239.11" fill="#111"/><text x="436.60" y="243.30" font-size="9.5" font-weight="bold" text-anchor="start" fill="#000" textLength="15.6" lengthAdjust="spacingAndGlyphs">242</text><path d="M457.30,240.40H465.30" stroke="#e8141c" stroke-width="1"/><path d="M461.30,236.92L464.78,240.40L461.30,243.88L457.82,240.40Z" fill="#e8141c"/><text x="468.60" y="243.30" font-size="9.5" font-weight="bold" text-anchor="start" fill="#000" textLength="15.6" lengthAdjust="spacingAndGlyphs">365</text><path d="M425.30,250.45H433.30" stroke="#111" stroke-width="1"/><path d="M429.30,246.97L432.78,250.45L429.30,253.93L425.82,250.45Z" fill="#111"/><text x="436.60" y="253.35" font-size="9.5" font-weight="bold" text-anchor="start" fill="#000" textLength="15.6" lengthAdjust="spacingAndGlyphs">362</text><path d="M457.30,250.45H465.30" stroke="#e8141c" stroke-width="1"/><path d="M461.30,247.41L464.63,253.21L457.97,253.21Z" fill="#e8141c"/><text x="468.60" y="253.35" font-size="9.5" font-weight="bold" text-anchor="start" fill="#000" textLength="15.6" lengthAdjust="spacingAndGlyphs">366</text><path d="M425.30,260.50H433.30" stroke="#111" stroke-width="1"/><path d="M429.30,257.31L429.30,263.69M426.54,258.90L432.06,262.10M426.54,262.10L432.06,258.90" stroke="#555" stroke-width="1.3" fill="none"/><text x="436.60" y="263.40" font-size="9.5" font-weight="bold" text-anchor="start" fill="#000" textLength="15.6" lengthAdjust="spacingAndGlyphs">363</text><path d="M457.30,260.50H465.30" stroke="#e8141c" stroke-width="1"/><path d="M461.30,263.55L464.63,257.75L457.97,257.75Z" fill="#e8141c"/><text x="468.60" y="263.40" font-size="9.5" font-weight="bold" text-anchor="start" fill="#000" textLength="15.6" lengthAdjust="spacingAndGlyphs">367</text><path d="M425.30,270.55H433.30" stroke="#111" stroke-width="1"/><rect x="426.40" y="267.65" width="5.80" height="5.80" fill="#111"/><text x="436.60" y="273.45" font-size="9.5" font-weight="bold" text-anchor="start" fill="#000" textLength="15.6" lengthAdjust="spacingAndGlyphs">369</text><path d="M457.30,270.55H465.30" stroke="#e8141c" stroke-width="1"/><path d="M461.30,267.07L464.78,270.55L461.30,274.03L457.82,270.55Z" fill="#e8141c"/><text x="468.60" y="273.45" font-size="9.5" font-weight="bold" text-anchor="start" fill="#000" textLength="15.6" lengthAdjust="spacingAndGlyphs">368</text><path d="M422.00,335.80L430.00,335.80" stroke="#18e818" stroke-width="1.1" fill="none" stroke-linejoin="round"/><path d="M426.10,332.44L429.46,335.80L426.10,339.16L422.74,335.80Z" fill="#18e818"/><text x="434.30" y="339.10" font-size="9.2" font-weight="bold" text-anchor="start" fill="#000">Control Env</text><path d="M422.00,347.30L430.00,347.30" stroke="#18e818" stroke-width="1.1" fill="none" stroke-dasharray="2,1.5" stroke-linejoin="round"/><path d="M426.10,344.36L429.32,349.96L422.88,349.96Z" fill="#18e818"/><text x="434.30" y="350.60" font-size="9.2" font-weight="bold" text-anchor="start" fill="#000">Control Gag</text><path d="M422.00,360.40L430.00,360.40" stroke="#1515d5" stroke-width="1.1" fill="none" stroke-linejoin="round"/><rect x="423.30" y="357.60" width="5.60" height="5.60" fill="#1515d5"/><text x="434.30" y="363.70" font-size="9.2" font-weight="bold" text-anchor="start" fill="#000">CD8 &amp; CD20</text><path d="M422.00,384.20L430.00,384.20" stroke="#1515d5" stroke-width="1.1" fill="none" stroke-dasharray="2,1.5" stroke-linejoin="round"/><path d="M426.10,387.14L429.32,381.54L422.88,381.54Z" fill="#1515d5"/><text x="434.30" y="387.50" font-size="9.2" font-weight="bold" text-anchor="start" fill="#000">CD8 &amp; CD20</text><text x="434.30" y="374.80" font-size="9.2" font-weight="bold" text-anchor="start" fill="#000">depleted Env</text><text x="434.30" y="398.50" font-size="9.2" font-weight="bold" text-anchor="start" fill="#000">depleted Gag</text>
</svg></body></html>
